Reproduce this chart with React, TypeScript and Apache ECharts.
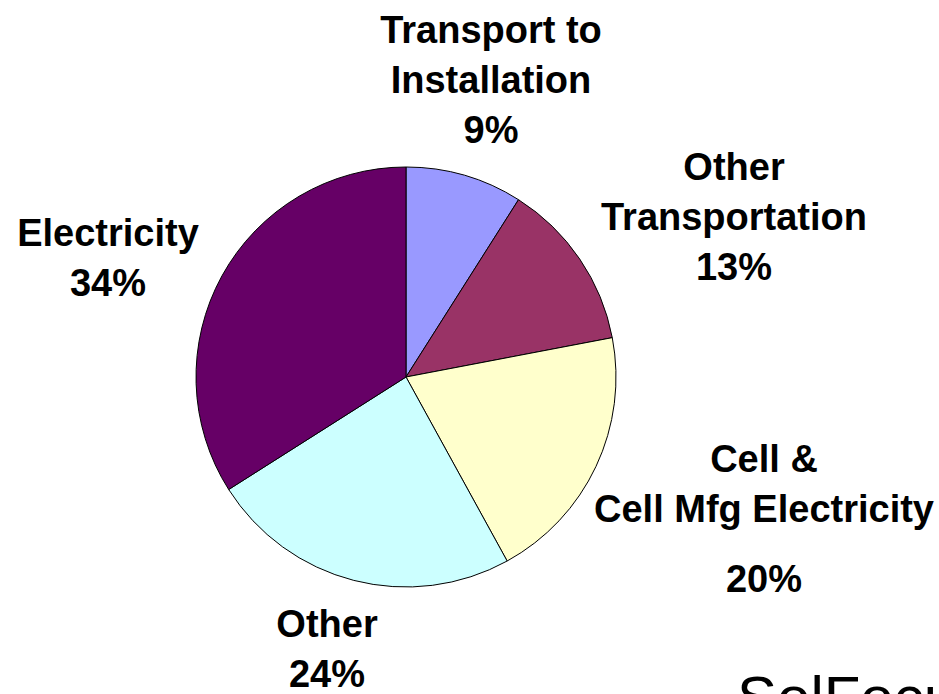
import React, { useEffect, useRef } from "react";
import * as echarts from "echarts";

const categories = [
  "Transport to\nInstallation",
  "Other\nTransportation",
  "Cell &\nCell Mfg Electricity",
  "Other",
  "Electricity",
];
const shares = [9, 13, 20, 24, 34];
const sliceColors = ["#9999FF", "#993366", "#FFFFCC", "#CCFFFF", "#660066"];
const labelCenters: [number, number][] = [
  [491, 80],
  [734, 217],
  [764, 516],
  [327, 649],
  [108, 258],
];
const brandText = "SolFocus";

export default function App() {
  const ref = useRef<HTMLDivElement>(null);
  useEffect(() => {
    if (!ref.current) return;
    const chart = echarts.init(ref.current, undefined, { renderer: "svg" });
    const font = '"Liberation Sans", Arial, sans-serif';
    chart.setOption({
      animation: false,
      backgroundColor: "#ffffff",
      series: [
        {
          type: "pie",
          center: [406, 377],
          radius: 210,
          startAngle: 90,
          clockwise: true,
          avoidLabelOverlap: false,
          itemStyle: { borderColor: "#000000", borderWidth: 1 },
          labelLine: { show: false },
          label: {
            show: true,
            position: "outside",
            fontFamily: font,
            fontSize: 38,
            fontWeight: "bold",
            color: "#000000",
            lineHeight: 50,
            align: "center",
            formatter: (p: any) => {
              if (p.dataIndex === 2) {
                return `{n|${p.name}}\n{g|${p.value}%}`;
              }
              return `${p.name}\n${p.value}%`;
            },
            rich: {
              n: { fontFamily: font, fontSize: 38, fontWeight: "bold", lineHeight: 50, color: "#000", align: "center" },
              g: { fontFamily: font, fontSize: 38, fontWeight: "bold", lineHeight: 64, verticalAlign: "bottom", color: "#000", align: "center" },
            },
          },
          labelLayout: (params: any) => {
            const c = labelCenters[params.dataIndex];
            return { x: c[0], y: c[1], align: "center", verticalAlign: "middle" };
          },
          data: categories.map((name, i) => ({
            name,
            value: shares[i],
            itemStyle: { color: sliceColors[i] },
          })),
        },
      ],
      graphic: [
        {
          type: "text",
          left: 737,
          top: 667,
          style: {
            text: brandText,
            fill: "#000000",
            font: `60px ${font}`,
          },
        },
      ],
    });
    return () => chart.dispose();
  }, []);
  return (
    <div
      ref={ref}
      style={{ position: "fixed", left: 0, top: 0, width: 939, height: 694 }}
    />
  );
}
